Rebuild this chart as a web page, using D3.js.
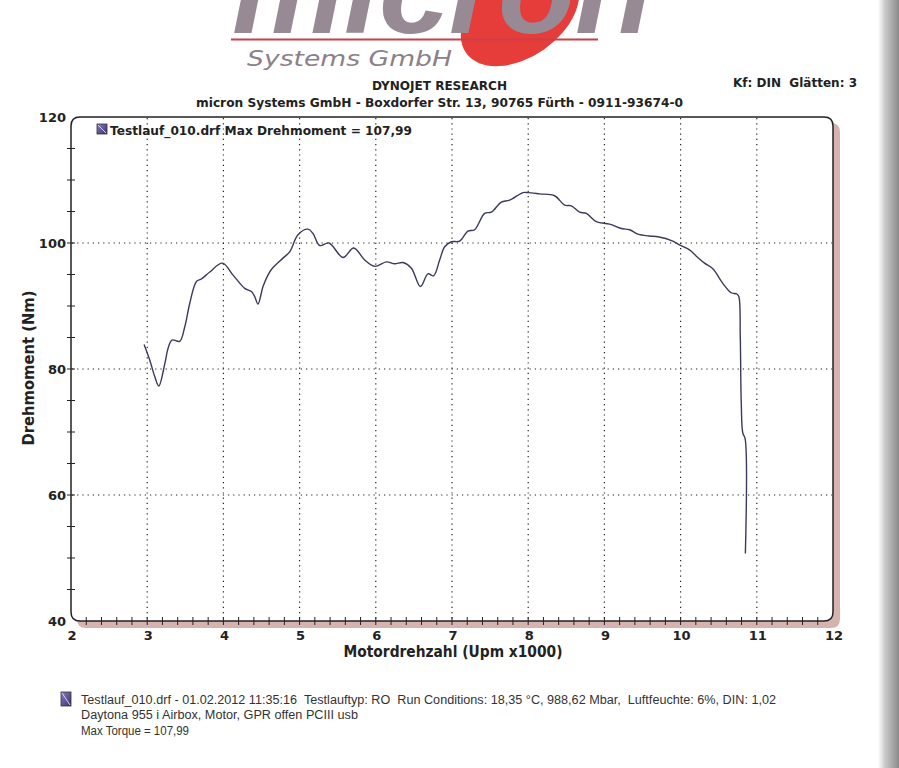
<!DOCTYPE html>
<html><head><meta charset="utf-8">
<script src="https://cdn.jsdelivr.net/npm/d3@7"></script>
<style>body{margin:0;background:#fff}svg{display:block}text{white-space:pre}</style>
</head><body>
<svg id="c" width="899" height="768"></svg>
<script>
// ---- data ----
const rpm = [2.959,3.034,3.099,3.152,3.232,3.274,3.326,3.427,3.493,3.558,3.646,3.712,3.821,3.987,4.127,4.280,4.368,4.411,4.454,4.520,4.585,4.630,4.782,4.870,4.979,5.110,5.176,5.264,5.386,5.570,5.710,5.854,5.985,6.139,6.248,6.357,6.467,6.585,6.685,6.759,6.838,6.904,6.992,7.100,7.209,7.297,7.428,7.516,7.647,7.756,7.931,7.996,8.150,8.347,8.478,8.566,8.675,8.763,8.894,9.068,9.222,9.331,9.440,9.593,9.702,9.899,9.986,10.117,10.226,10.314,10.423,10.554,10.664,10.738,10.764,10.783,10.796,10.817,10.846,10.850];
const torque = [83.9,81.4,78.8,77.3,80.9,83.3,84.6,84.4,86.7,90.4,93.9,94.3,95.4,96.8,94.9,92.8,92.3,91.5,90.3,93.1,94.9,95.8,97.6,98.6,101.3,102.2,101.5,99.6,100.0,97.7,99.2,97.3,96.3,97.0,96.7,96.9,96.0,93.1,95.1,94.8,97.3,99.4,100.2,100.3,101.9,102.1,104.7,104.9,106.5,106.8,108.0,108.0,107.8,107.5,106.0,105.9,104.9,104.7,103.4,103.0,102.3,102.1,101.4,101.1,101.0,100.3,99.7,98.9,97.7,96.8,95.9,93.6,92.1,91.9,91.5,85.1,74.6,69.8,69.0,50.7];
const xTicks = [2,3,4,5,6,7,8,9,10,11,12];
const yTicks = [40,60,80,100,120];
const xGrid = [3,4,5,6,7,8,9,10,11];
const yGrid = [60,80,100];
const legendText = "Testlauf_010.drf Max Drehmoment = 107,99";
const infoLines = [
 "Testlauf_010.drf - 01.02.2012 11:35:16  Testlauftyp: RO  Run Conditions: 18,35 °C, 988,62 Mbar,  Luftfeuchte: 6%, DIN: 1,02",
 "Daytona 955 i Airbox, Motor, GPR offen PCIII usb",
 "Max Torque = 107,99"
];

const svg = d3.select("#c");
const L=71, R=833, T=117, B=621;
const x = d3.scaleLinear().domain([2,12]).range([L,R]);
const y = d3.scaleLinear().domain([40,120]).range([B,T]);

const defs = svg.append("defs");
const eg = defs.append("linearGradient").attr("id","edge").attr("x1","0").attr("x2","1");
eg.append("stop").attr("offset","0").attr("stop-color","#fff");
eg.append("stop").attr("offset","0.35").attr("stop-color","#c8c8c8");
eg.append("stop").attr("offset","1").attr("stop-color","#8a8a8a");
const ig = defs.append("linearGradient").attr("id","icon").attr("x1","0").attr("y1","0").attr("x2","1").attr("y2","1");
ig.append("stop").attr("offset","0").attr("stop-color","#8a80c0");
ig.append("stop").attr("offset","1").attr("stop-color","#3a3070");
defs.append("clipPath").attr("id","logoclip").append("rect").attr("x",0).attr("y",0).attr("width",899).attr("height",36);

// ---- logo ----
svg.append("ellipse").attr("cx",520).attr("cy",15).attr("rx",66).attr("ry",42)
  .attr("transform","rotate(-35,520,15)").attr("fill","#e63c3a");
svg.append("line").attr("x1",231).attr("x2",598).attr("y1",39.5).attr("y2",39.5)
  .attr("stroke","#c9404a").attr("stroke-width",2);
svg.append("g").attr("clip-path","url(#logoclip)").append("text").attr("x",232).attr("y",33).attr("textLength",420).attr("lengthAdjust","spacingAndGlyphs")
  .attr("font-family","Liberation Sans").attr("font-weight","bold").attr("font-style","italic")
  .attr("font-size",120).attr("fill","#988a94").text("micron");
svg.append("text").attr("x",247).attr("y",66).attr("textLength",205).attr("lengthAdjust","spacingAndGlyphs")
  .attr("font-family","DejaVu Sans").attr("font-style","italic")
  .attr("font-size",21).attr("fill","#8c8089").text("Systems GmbH");

// right page edge
svg.append("rect").attr("x",878).attr("y",0).attr("width",21).attr("height",768).attr("fill","url(#edge)");

// ---- headers ----
svg.append("text").attr("x",439.5).attr("y",90).attr("text-anchor","middle")
  .attr("textLength",135).attr("lengthAdjust","spacingAndGlyphs")
  .attr("font-family","DejaVu Sans Condensed").attr("font-weight","bold").attr("font-size",13).attr("fill","#222")
  .text("DYNOJET RESEARCH");
svg.append("text").attr("x",439.5).attr("y",107).attr("text-anchor","middle")
  .attr("textLength",487).attr("lengthAdjust","spacingAndGlyphs")
  .attr("font-family","DejaVu Sans Condensed").attr("font-weight","bold").attr("font-size",13).attr("fill","#222")
  .text("micron Systems GmbH - Boxdorfer Str. 13, 90765 Fürth - 0911-93674-0");
svg.append("text").attr("x",733).attr("y",87)
  .attr("textLength",124).attr("lengthAdjust","spacingAndGlyphs")
  .attr("font-family","DejaVu Sans Condensed").attr("font-weight","bold").attr("font-size",13).attr("fill","#222")
  .text("Kf: DIN  Glätten: 3");

// ---- frame with shadow ----
function rr(x0,y0,x1,y1,r){return `M${x0+r},${y0}H${x1-r}Q${x1},${y0} ${x1},${y0+r}V${y1-r}Q${x1},${y1} ${x1-r},${y1}H${x0+r}Q${x0},${y1} ${x0},${y1-r}V${y0+r}Q${x0},${y0} ${x0+r},${y0}Z`;}
svg.append("path").attr("d",rr(L+6,T+6,R+7,B+7,9)).attr("fill","#d7b3b0");
svg.append("path").attr("d",rr(L,T,R,B,9)).attr("fill","#fff");

// grid
svg.append("g").selectAll("line").data(xGrid).join("line")
  .attr("x1",d=>x(d)).attr("x2",d=>x(d)).attr("y1",T+1).attr("y2",B-1)
  .attr("stroke","#222").attr("stroke-width",1.2).attr("stroke-dasharray","1.2,4");
svg.append("g").selectAll("line").data(yGrid).join("line")
  .attr("y1",d=>y(d)).attr("y2",d=>y(d)).attr("x1",L+1).attr("x2",R-1)
  .attr("stroke","#222").attr("stroke-width",1.2).attr("stroke-dasharray","1.2,4");

svg.append("path").attr("d",rr(L,T,R,B,9)).attr("fill","none").attr("stroke","#222").attr("stroke-width",1.5);

// axes ticks (crossing)
const xMinor = d3.range(2.2,11.9,0.2);
svg.append("g").selectAll("line").data(xMinor).join("line")
  .attr("x1",d=>x(d)).attr("x2",d=>x(d)).attr("y1",B-4).attr("y2",B+4)
  .attr("stroke","#222").attr("stroke-width",1);
const yMinor = d3.range(45,120,5);
svg.append("g").selectAll("line").data(yMinor).join("line")
  .attr("y1",d=>y(d)).attr("y2",d=>y(d)).attr("x1",L-4).attr("x2",L+4)
  .attr("stroke","#222").attr("stroke-width",1);

// tick labels
svg.append("g").selectAll("text").data(xTicks).join("text")
  .attr("x",d=>x(d)+1).attr("y",640).attr("text-anchor","middle")
  .attr("font-family","DejaVu Sans").attr("font-weight","bold").attr("font-size",13).attr("fill","#222")
  .text(d=>d);
svg.append("g").selectAll("text").data(yTicks).join("text")
  .attr("x",66).attr("y",d=>y(d)+5).attr("text-anchor","end")
  .attr("font-family","DejaVu Sans").attr("font-weight","bold").attr("font-size",13).attr("fill","#222")
  .text(d=>d);

// axis titles
svg.append("text").attr("x",453).attr("y",657).attr("text-anchor","middle")
  .attr("textLength",219).attr("lengthAdjust","spacingAndGlyphs")
  .attr("font-family","DejaVu Sans").attr("font-weight","bold").attr("font-size",15).attr("fill","#222")
  .text("Motordrehzahl (Upm x1000)");
svg.append("text").attr("transform","translate(34,368) rotate(-90)").attr("text-anchor","middle")
  .attr("textLength",155).attr("lengthAdjust","spacingAndGlyphs")
  .attr("font-family","DejaVu Sans").attr("font-weight","bold").attr("font-size",15).attr("fill","#222")
  .text("Drehmoment (Nm)");

// legend
function icon(g,x0,y0,w,h){
  g.append("rect").attr("x",x0).attr("y",y0).attr("width",w).attr("height",h).attr("fill","url(#icon)").attr("stroke","#333").attr("stroke-width",0.8);
  g.append("line").attr("x1",x0+1).attr("y1",y0+1).attr("x2",x0+w-1).attr("y2",y0+h-1).attr("stroke","#d8d4f0").attr("stroke-width",1);
}
icon(svg,97,124,10,10);
svg.append("text").attr("x",110).attr("y",135)
  .attr("textLength",302).attr("lengthAdjust","spacingAndGlyphs")
  .attr("font-family","DejaVu Sans").attr("font-weight","bold").attr("font-size",13).attr("fill","#222")
  .text(legendText);

// curve
const pts = rpm.map((r,i)=>[r,torque[i]]);
svg.append("path").datum(pts)
  .attr("d",d3.line().x(d=>x(d[0])).y(d=>y(d[1])).curve(d3.curveCatmullRom.alpha(0.5)))
  .attr("fill","none").attr("stroke","#3a3a5c").attr("stroke-width",1.4);

// bottom info
icon(svg,61,692,10,14);
const infoLen=[695,277,108];
svg.append("g").selectAll("text").data(infoLines).join("text")
  .attr("x",81).attr("y",(d,i)=>704+i*15.3)
  .attr("textLength",(d,i)=>infoLen[i]).attr("lengthAdjust","spacingAndGlyphs")
  .attr("font-family","Liberation Sans").attr("font-size",12.5).attr("fill","#333")
  .text(d=>d);
</script>
</body></html>
